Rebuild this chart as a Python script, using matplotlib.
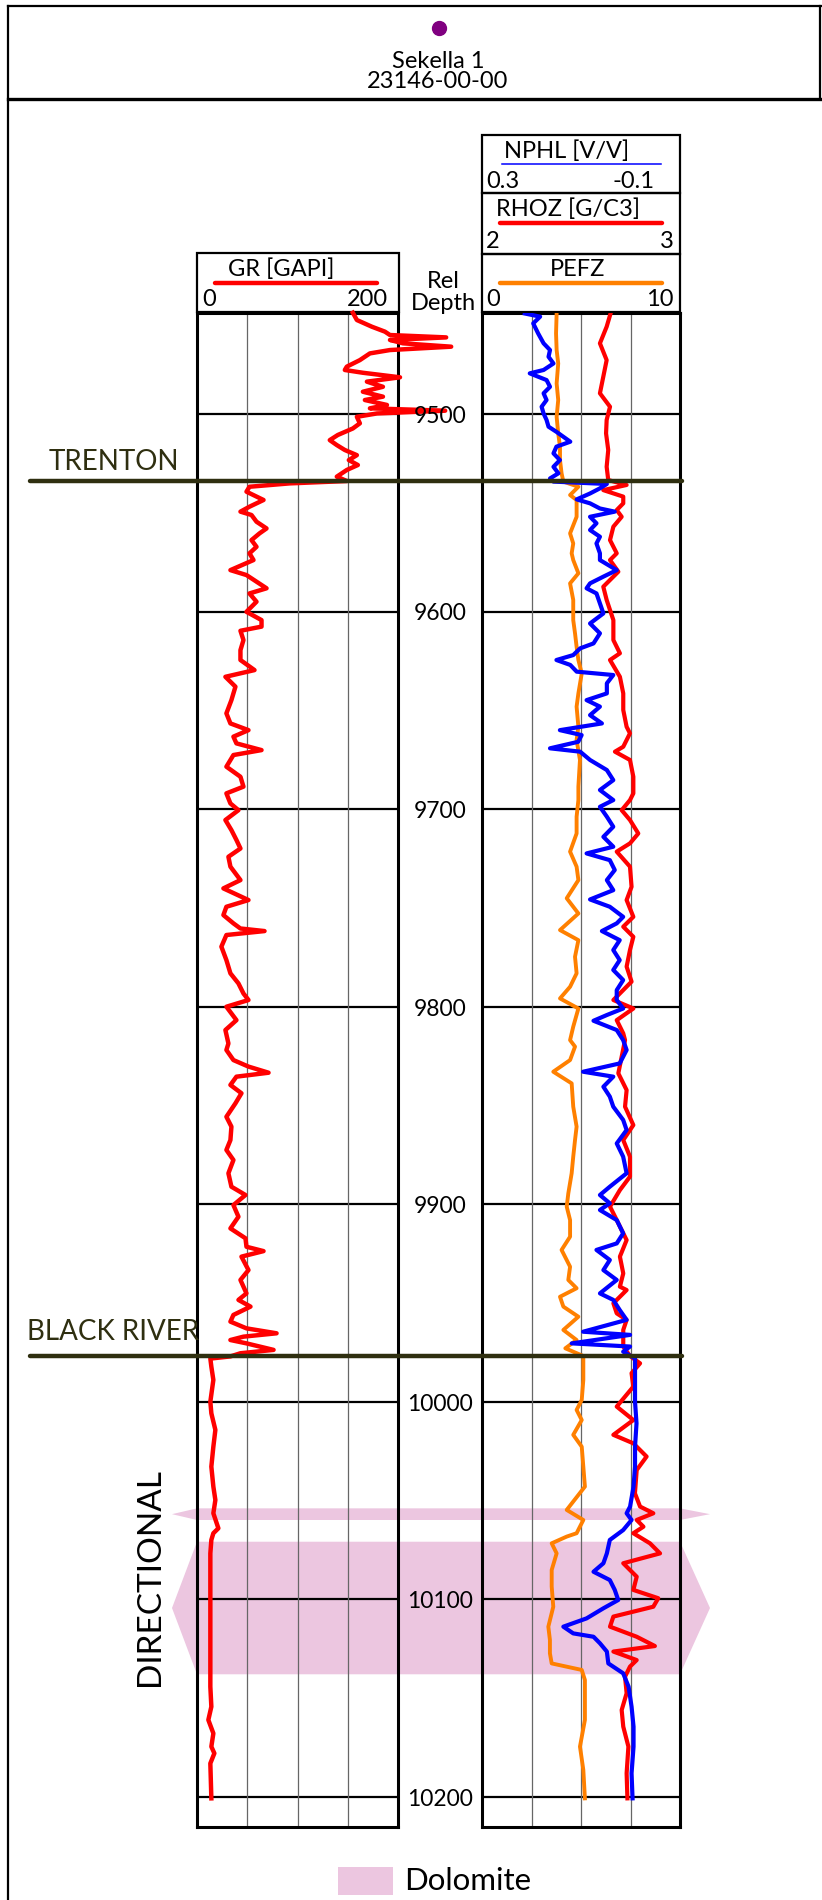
import matplotlib
matplotlib.use('Agg')
import matplotlib.pyplot as plt
from matplotlib.patches import Polygon, Rectangle

plt.rcParams['font.family'] = ['Lato', 'DejaVu Sans']

# Canvas size in pixels
W = 822
H = 1900

# Depth window shown in the tracks (ft) and the labelled depths
DEPTH_TOP = 9448.7
DEPTH_BOT = 10215.2
DEPTH_LABELS = [9500, 9600, 9700, 9800, 9900, 10000, 10100, 10200]

# Formation tops
TOP_NAMES = ['TRENTON', 'BLACK RIVER']
TOP_DEPTHS = [9534.0, 9976.8]

# Dolomite intervals
DOLOMITE_TOPS = [10053.9, 10070.8]
DOLOMITE_BASES = [10059.8, 10137.9]

# GR [GAPI]
gr_depth = [9448.7, 9452.4, 9455.8, 9458.3, 9460.0, 9461.2, 9462.5, 9464.2, 9465.9, 9467.6,
            9469.3, 9472.7, 9476.0, 9477.7, 9479.1, 9481.4, 9483.6, 9486.2, 9488.7, 9491.2,
            9492.9, 9495.4, 9497.1, 9498.3, 9499.7, 9501.4, 9504.7, 9507.3, 9510.6, 9513.2,
            9515.7, 9518.2, 9520.8, 9523.3, 9525.8, 9528.3, 9531.7, 9533.9, 9535.1, 9536.8,
            9539.3, 9543.5, 9546.9, 9549.4, 9551.1, 9554.5, 9557.9, 9560.4, 9563.8, 9567.2,
            9570.5,
            9573.9, 9579.0, 9581.5, 9588.2, 9590.8, 9595.0, 9600.1, 9604.3, 9607.6, 9609.7,
            9614.4, 9619.5, 9624.5, 9629.6, 9633.0, 9638.0, 9644.8, 9651.5, 9656.6, 9660.0,
            9663.3, 9666.7, 9670.1, 9672.6, 9678.5, 9683.6, 9688.6, 9692.0, 9697.1,
            9700.5, 9705.5, 9710.6, 9715.6, 9719.9, 9724.1, 9729.1, 9735.9, 9740.1, 9746.0,
            9749.4, 9753.6, 9757.8, 9760.4, 9761.7, 9763.7, 9769.6, 9776.4, 9783.1, 9788.2,
            9793.3, 9796.6, 9800.0, 9806.8, 9811.8, 9818.6,
            9821.9, 9827.0, 9830.3, 9833.4, 9835.4, 9839.6, 9843.8, 9848.9, 9855.7, 9860.7,
            9867.5, 9872.5, 9877.6, 9884.3, 9891.1, 9895.3, 9900.4, 9906.3, 9912.2, 9917.2,
            9921.5, 9923.7, 9926.5, 9933.3, 9938.3, 9945.1,
            9948.4, 9951.8, 9956.0, 9959.4, 9962.8, 9965.3, 9967.0, 9968.7, 9970.4, 9973.7,
            9975.4, 9977.0, 9978.1, 9982.2, 9988.9, 9999.9, 10005.8, 10014.2, 10022.7, 10032.8,
            10042.9, 10049.7, 10056.4, 10064.0,
            10066.5, 10069.9, 10076.7, 10093.5, 10110.4, 10127.3, 10144.2, 10154.3, 10161.0, 10167.8,
            10174.5, 10177.9, 10183.0, 10200.7]
gr_val = [155, 159, 174, 187, 192, 248, 192, 205, 253, 192,
          172, 162, 149, 147, 165, 202, 169, 185, 165, 185,
          167, 189, 172, 247, 179, 159, 162, 155, 140, 132,
          139, 147, 159, 151, 160, 149, 139, 149, 92, 52,
          49, 66, 52, 43, 54, 59, 69, 62, 54, 59,
          52,
          56, 33, 49, 69, 52, 59, 49, 64, 64, 43,
          46, 43, 43, 57, 28, 38, 34, 29, 33, 51,
          36, 39, 64, 36, 29, 43, 46, 29, 33,
          41, 28, 34, 39, 43, 31, 33, 43, 26, 51,
          29, 26, 36, 43, 67, 29, 24, 29, 33, 41,
          46, 51, 29, 39, 28, 31,
          29, 36, 51, 71, 39, 33, 44, 38, 29, 34,
          33, 29, 36, 31, 34, 48, 36, 41, 33, 48,
          49, 66, 44, 51, 43, 49,
          41, 53, 36, 33, 49, 79, 46, 33, 49, 76,
          43, 33, 13, 14, 16, 13, 14, 18, 16, 14,
          16, 18, 16, 21,
          16, 14, 13, 13, 13, 13, 13, 14, 11, 16,
          14, 17, 13, 14]

# NPHL [V/V]
nphl_depth = [9449.1, 9450.7, 9454.1, 9459.2, 9464.2, 9467.6, 9471.0, 9474.4, 9477.7, 9479.4,
              9482.8, 9486.2, 9489.5, 9492.9, 9496.3, 9499.7, 9503.0, 9506.4, 9509.0, 9511.5,
              9514.0, 9516.5, 9519.9, 9523.3, 9526.7, 9530.0, 9532.6, 9534.2, 9535.4, 9537.6,
              9540.2, 9543.2, 9545.2, 9547.8, 9549.4, 9552.0, 9555.3, 9558.7, 9562.1, 9565.5,
              9570.5,
              9573.9, 9579.0, 9582.3, 9585.7, 9588.2, 9590.8, 9595.8, 9600.9, 9606.0, 9611.0,
              9616.1, 9618.6, 9622.0, 9624.5, 9627.0, 9630.4, 9632.1, 9636.3, 9641.4, 9644.8,
              9648.1, 9652.4, 9656.6, 9660.0, 9662.5, 9665.9, 9669.2, 9670.9, 9675.1, 9680.2,
              9685.3, 9690.3, 9695.4,
              9698.8, 9703.8, 9708.9, 9714.0, 9719.0, 9722.4, 9725.8, 9730.8, 9735.9, 9741.0,
              9745.7, 9749.4, 9754.5, 9757.8, 9761.7, 9766.3, 9771.3, 9776.4, 9781.4, 9786.5,
              9791.6, 9796.6, 9800.9, 9804.2, 9807.1, 9811.8, 9816.9,
              9821.9, 9828.7, 9832.9, 9835.4, 9840.5, 9845.5, 9850.6, 9857.3, 9862.4, 9869.2,
              9875.9, 9884.3, 9891.1, 9895.3, 9899.5, 9902.9, 9908.0, 9914.7, 9919.8, 9923.1,
              9928.2, 9933.3, 9938.3, 9945.1,
              9948.4, 9953.5, 9958.5, 9964.5, 9966.1, 9970.4, 9972.0, 9974.6, 9978.0, 9988.9,
              9999.9, 10010.9, 10022.7, 10032.8, 10042.9, 10053.0, 10056.4,
              10059.8, 10064.9, 10069.9, 10076.7, 10081.7, 10086.0, 10090.2, 10095.2, 10100.3, 10104.5,
              10109.6, 10113.8, 10117.2, 10118.9, 10122.2, 10126.4, 10132.4, 10137.4, 10144.2, 10154.3,
              10164.4, 10174.5, 10188.0, 10200.7]
nphl_val = [0.214, 0.183, 0.197, 0.187, 0.176, 0.163, 0.166, 0.156, 0.176, 0.204,
            0.170, 0.163, 0.176, 0.170, 0.180, 0.176, 0.170, 0.166, 0.150, 0.136,
            0.122, 0.150, 0.156, 0.143, 0.156, 0.146, 0.163, 0.156, 0.048, 0.062,
            0.082, 0.109, 0.082, 0.062, 0.032, 0.082, 0.069, 0.082, 0.062, 0.069,
            0.062,
            0.062, 0.028, 0.055, 0.082, 0.089, 0.069, 0.062, 0.055, 0.082, 0.062,
            0.075, 0.102, 0.116, 0.150, 0.122, 0.109, 0.035, 0.048, 0.048, 0.089,
            0.062, 0.082, 0.058, 0.143, 0.099, 0.106, 0.163, 0.102, 0.082, 0.048,
            0.035, 0.062, 0.035,
            0.062, 0.048, 0.035, 0.055, 0.035, 0.089, 0.042, 0.032, 0.048, 0.035,
            0.082, 0.042, 0.015, 0.028, 0.058, 0.022, 0.035, 0.022, 0.035, 0.015,
            0.028, 0.028, 0.015, 0.048, 0.075, 0.028, 0.015,
            0.008, 0.022, 0.096, 0.035, 0.055, 0.042, 0.035, 0.015, 0.008, 0.028,
            0.015, 0.008, 0.042, 0.062, 0.042, 0.062, 0.028, 0.015, 0.028, 0.069,
            0.042, 0.055, 0.028, 0.062,
            0.035, 0.022, 0.008, 0.096, 0.001, 0.119, 0.001, 0.015, -0.009, -0.009,
            -0.009, -0.012, -0.009, -0.009, -0.006, 0.001, 0.008,
            -0.002, 0.015, 0.042, 0.048, 0.055, 0.075, 0.042, 0.032, 0.025, 0.055,
            0.089, 0.136, 0.116, 0.075, 0.062, 0.048, 0.045, 0.015, 0.004, -0.002,
            -0.006, -0.006, -0.002, -0.004]

# RHOZ [G/C3]
rhoz_depth = [9449.0, 9455.8, 9464.2, 9472.7, 9481.1, 9489.5, 9496.3, 9503.0, 9509.8, 9518.2,
              9526.7, 9533.4, 9535.9, 9538.5, 9541.8, 9545.2, 9548.6, 9552.0, 9557.0, 9563.8,
              9570.5,
              9573.9, 9579.8, 9587.4, 9594.1, 9604.3, 9614.4, 9621.1, 9624.5, 9633.0, 9641.4,
              9649.8, 9658.3, 9661.6, 9668.4, 9670.9, 9675.1, 9683.6, 9692.0,
              9695.4, 9700.5, 9705.5, 9712.3, 9717.3, 9721.5, 9729.1, 9739.3, 9746.0, 9754.5,
              9759.5, 9764.6, 9771.3, 9779.7, 9787.3, 9796.6, 9800.9, 9806.8, 9813.5,
              9816.9, 9825.3, 9833.7, 9842.2, 9850.6, 9859.9, 9867.5, 9875.9, 9886.0, 9892.8,
              9901.2, 9908.0, 9918.1, 9926.5, 9935.0, 9941.7,
              9943.4, 9950.1, 9955.2, 9958.5, 9963.6, 9972.0, 9976.8, 9980.5, 9985.5, 9992.3,
              10002.4, 10009.2, 10016.7, 10021.0, 10027.7, 10034.5, 10046.3, 10053.0, 10056.4, 10059.8,
              10063.2,
              10066.5, 10071.6, 10076.7, 10081.7, 10088.5, 10095.2, 10099.4, 10103.7, 10108.7, 10113.8,
              10118.9, 10123.6, 10126.4, 10130.7, 10134.0, 10139.1, 10147.5, 10156.0, 10164.4, 10174.5,
              10188.0, 10200.7]
rhoz_val = [2.649, 2.629, 2.595, 2.629, 2.612, 2.595, 2.646, 2.629, 2.626, 2.637,
            2.629, 2.637, 2.730, 2.612, 2.713, 2.713, 2.680, 2.705, 2.663, 2.646,
            2.680,
            2.646, 2.688, 2.612, 2.629, 2.663, 2.663, 2.696, 2.646, 2.696, 2.713,
            2.713, 2.730, 2.747, 2.713, 2.671, 2.747, 2.764, 2.764,
            2.747, 2.705, 2.747, 2.789, 2.747, 2.680, 2.747, 2.755, 2.730, 2.764,
            2.713, 2.764, 2.747, 2.730, 2.755, 2.663, 2.764, 2.680, 2.713,
            2.722, 2.705, 2.688, 2.730, 2.722, 2.764, 2.713, 2.747, 2.747, 2.696,
            2.646, 2.680, 2.730, 2.696, 2.713, 2.696,
            2.730, 2.663, 2.680, 2.730, 2.713, 2.713, 2.747, 2.798, 2.755, 2.764,
            2.680, 2.764, 2.663, 2.764, 2.831, 2.781, 2.772, 2.798, 2.865, 2.781,
            2.815,
            2.764, 2.848, 2.899, 2.713, 2.781, 2.764, 2.890, 2.865, 2.663, 2.646,
            2.781, 2.873, 2.663, 2.781, 2.747, 2.722, 2.730, 2.705, 2.713, 2.739,
            2.730, 2.734]

# PEFZ
pefz_depth = [9449.0, 9459.2, 9467.6, 9474.4, 9484.5, 9492.9, 9501.4, 9509.8, 9516.5, 9523.3,
              9530.0, 9534.2, 9536.8, 9541.0, 9543.5, 9552.0, 9560.4, 9565.5, 9570.5,
              9573.9, 9580.6, 9585.7, 9594.1, 9604.3, 9611.0, 9617.8, 9624.5, 9631.3, 9641.4,
              9648.1, 9658.3, 9665.0, 9675.1, 9688.6,
              9695.4, 9703.8, 9712.3, 9721.5, 9729.1, 9735.9, 9745.1, 9752.8, 9761.2, 9766.3,
              9774.7, 9783.1, 9789.9, 9795.8, 9800.9, 9810.1,
              9816.9, 9820.2, 9827.0, 9832.9, 9838.8, 9850.6, 9860.7, 9867.5, 9875.9, 9884.3,
              9894.5, 9901.2, 9908.0, 9916.4, 9923.1, 9931.6, 9938.3, 9942.5, 9946.8,
              9951.8, 9956.9, 9963.6, 9968.7, 9972.9, 9976.8, 9988.9, 9999.0, 10004.1, 10009.2,
              10016.7, 10022.7, 10032.8, 10042.9, 10054.7, 10059.8,
              10066.5, 10068.2, 10071.6, 10076.7, 10085.1, 10093.5, 10103.7, 10113.8, 10120.5, 10127.3,
              10132.4, 10135.7, 10140.8, 10152.6, 10161.0, 10174.5, 10186.3, 10200.7]
pefz_val = [3.76, 3.73, 3.76, 3.84, 3.76, 3.84, 3.76, 3.84, 3.93, 3.93,
            4.01, 4.10, 4.86, 4.44, 4.77, 4.77, 4.44, 4.60, 4.52,
            4.60, 4.86, 4.44, 4.60, 4.60, 4.69, 4.77, 4.86, 5.03, 4.86,
            4.77, 4.86, 4.77, 4.94, 4.86,
            4.86, 4.77, 4.77, 4.44, 4.77, 4.86, 4.27, 4.86, 3.93, 4.86,
            4.69, 4.77, 4.44, 3.93, 4.86, 4.60,
            4.44, 4.69, 4.44, 3.59, 4.52, 4.60, 4.77, 4.69, 4.60, 4.52,
            4.35, 4.27, 4.44, 4.44, 4.01, 4.44, 4.35, 4.77, 3.93,
            4.10, 4.86, 4.10, 4.77, 4.20, 5.11, 5.11, 5.03, 4.77, 5.03,
            4.60, 5.03, 5.11, 5.19, 4.27, 5.11,
            4.77, 4.27, 3.51, 3.76, 3.51, 3.51, 3.59, 3.34, 3.42, 3.42,
            3.51, 5.03, 5.19, 5.19, 5.19, 4.94, 5.11, 5.19]

RED = '#ff0000'
BLUE = '#0000ff'
ORANGE = '#ff8000'
TOP_COLOR = '#2f2f10'
DOLOMITE = '#ecc6e0'

# Pixel layout of the tracks
TRACK_Y0 = 312.7
TRACK_Y1 = 1827
GR_X = (197.3, 398)
RT_X = (482.3, 680)
HDR_FS = 17


def px_rect(x0, y0, x1, y1):
    """ Pixel box (top-left origin) -> figure fraction rect """
    return [x0 / W, 1 - y1 / H, (x1 - x0) / W, (y1 - y0) / H]


def depth_axes(fig, x0, x1, z):
    ax = fig.add_axes(px_rect(x0, TRACK_Y0, x1, TRACK_Y1))
    ax.set_ylim(DEPTH_BOT, DEPTH_TOP)
    ax.set_facecolor('none')
    ax.set_zorder(z)
    return ax


def style_track(ax):
    ax.set_xticks([])
    ax.set_yticks([])
    for s in ax.spines.values():
        s.set_linewidth(2.2)
        s.set_color('black')
    for d in DEPTH_LABELS:
        ax.axhline(d, color='black', lw=1.6, zorder=1)


def main():
    fig = plt.figure(figsize=(W / 100, H / 100), dpi=100)

    # Background frame and header (pixel coordinates)
    bg = fig.add_axes([0, 0, 1, 1])
    bg.set_xlim(0, W)
    bg.set_ylim(H, 0)
    bg.axis('off')
    bg.plot([8, W], [6, 6], color='black', lw=1.6)
    bg.plot([8, 8], [6, H], color='black', lw=1.6)
    bg.plot([820, 820], [6, 99], color='black', lw=1.6)
    bg.plot([8, W], [99, 99], color='black', lw=2.4)
    bg.plot(439, 28, 'o', color='#800080', ms=10)
    bg.text(438, 62, 'Sekella 1', ha='center', va='center', fontsize=HDR_FS)
    bg.text(438, 81, '23146-00-00', ha='center', va='center', fontsize=HDR_FS)

    # Track headers
    for (x0, y0, x1, y1) in [(196.7, 253.3, 399, 312), (482.3, 135, 680, 193.3),
                             (482.3, 193.3, 680, 254), (482.3, 254, 680, 312)]:
        bg.add_patch(Rectangle((x0, y0), x1 - x0, y1 - y0, fill=False, ec='black', lw=1.6))
    bg.text(281, 269, 'GR [GAPI]', ha='center', va='center', fontsize=HDR_FS)
    bg.plot([215, 377], [283, 283], color=RED, lw=3.2, solid_capstyle='round')
    bg.text(202, 300, '0', ha='left', va='center', fontsize=HDR_FS)
    bg.text(388, 300, '200', ha='right', va='center', fontsize=HDR_FS)

    bg.text(443, 282, 'Rel', ha='center', va='center', fontsize=HDR_FS)
    bg.text(443, 303, 'Depth', ha='center', va='center', fontsize=HDR_FS)

    bg.text(567, 151, 'NPHL [V/V]', ha='center', va='center', fontsize=HDR_FS)
    bg.plot([502, 661], [164, 164], color=BLUE, lw=1.1)
    bg.text(486, 182, '0.3', ha='left', va='center', fontsize=HDR_FS)
    bg.text(654, 182, '-0.1', ha='right', va='center', fontsize=HDR_FS)

    bg.text(568, 209, 'RHOZ [G/C3]', ha='center', va='center', fontsize=HDR_FS)
    bg.plot([500, 662], [223, 223], color=RED, lw=3.2, solid_capstyle='round')
    bg.text(486, 242, '2', ha='left', va='center', fontsize=HDR_FS)
    bg.text(674, 242, '3', ha='right', va='center', fontsize=HDR_FS)

    bg.text(578, 269, 'PEFZ', ha='center', va='center', fontsize=HDR_FS)
    bg.plot([500, 662], [283, 283], color=ORANGE, lw=3.2, solid_capstyle='round')
    bg.text(486, 300, '0', ha='left', va='center', fontsize=HDR_FS)
    bg.text(674, 300, '10', ha='right', va='center', fontsize=HDR_FS)

    bg.text(150, 1577, 'DIRECTIONAL', rotation=90, ha='center', va='center', fontsize=24)

    # Legend
    bg.add_patch(Rectangle((338, 1867), 55, 28, color=DOLOMITE, lw=0))
    bg.text(404, 1881, 'Dolomite', ha='left', va='center', fontsize=22.5)

    # Dolomite bands behind the tracks (x in pixels, y in depth)
    back = depth_axes(fig, 0, W, 1)
    back.set_xlim(0, W)
    back.axis('off')
    for top, base in zip(DOLOMITE_TOPS, DOLOMITE_BASES):
        mid = (top + base) / 2
        pts = [(172, mid), (197, top), (680, top), (710, mid), (680, base), (197, base)]
        back.add_patch(Polygon(pts, closed=True, color=DOLOMITE, lw=0, clip_on=False))

    # GR track
    gr_ax = depth_axes(fig, GR_X[0], GR_X[1], 2)
    gr_ax.set_xlim(0, 200)
    style_track(gr_ax)
    for x in (50, 100, 150):
        gr_ax.axvline(x, color='#666666', lw=0.9, zorder=1)
    gr_ax.plot(gr_val, gr_depth, color=RED, lw=3.2, clip_on=False, zorder=3,
               solid_joinstyle='round')

    # Porosity / density / PE track
    pe_ax = depth_axes(fig, RT_X[0], RT_X[1], 2)
    pe_ax.set_xlim(0, 10)
    style_track(pe_ax)
    for x in (2.5, 5, 7.5):
        pe_ax.axvline(x, color='#666666', lw=0.9, zorder=1)
    pe_ax.plot(pefz_val, pefz_depth, color=ORANGE, lw=2.8, zorder=3, solid_joinstyle='round')

    rho_ax = depth_axes(fig, RT_X[0], RT_X[1], 3)
    rho_ax.set_xlim(2, 3)
    rho_ax.axis('off')
    rho_ax.plot(rhoz_val, rhoz_depth, color=RED, lw=3.0, solid_joinstyle='round')

    nphl_ax = depth_axes(fig, RT_X[0], RT_X[1], 4)
    nphl_ax.set_xlim(0.3, -0.1)
    nphl_ax.axis('off')
    nphl_ax.plot(nphl_val, nphl_depth, color=BLUE, lw=3.0, solid_joinstyle='round')

    # Depth labels and formation tops on top of everything
    front = depth_axes(fig, 0, W, 5)
    front.set_xlim(0, W)
    front.axis('off')
    for d in DEPTH_LABELS:
        front.text(440, d + 1.2, str(d), ha='center', va='center', fontsize=16.5)
    label_x = [49, 27]
    label_gap = [5.6, 8.1]
    for name, d, lx, gap in zip(TOP_NAMES, TOP_DEPTHS, label_x, label_gap):
        front.plot([30, 682], [d, d], color=TOP_COLOR, lw=3.2, solid_capstyle='round',
                   clip_on=False)
        front.text(lx, d - gap, name, ha='left', va='baseline', fontsize=20, color=TOP_COLOR)

    fig.savefig('out.png', dpi=100)


if __name__ == "__main__":
    main()
